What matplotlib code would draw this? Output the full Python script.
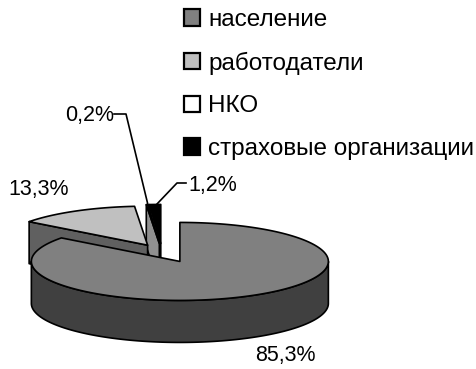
import numpy as np
import matplotlib
matplotlib.use("Agg")
import matplotlib.pyplot as plt
from matplotlib.patches import Polygon, Patch

plt.rcParams['font.family'] = ['Liberation Sans', 'DejaVu Sans']

# ---- data ----
categories = ["население", "работодатели", "НКО", "страховые организации"]
values = [85.3, 13.3, 0.2, 1.2]

# ---- style ----
top_colors = ["#808080", "#c0c0c0", "#ffffff", "#000000"]
side_colors = ["#404040", "#606060", "#909090", "#808080"]
explode = [0.27, 0.20, 0.22, 0.22]

W, H = 477, 369
fig = plt.figure(figsize=(W / 100, H / 100), dpi=100)
ax = fig.add_axes([0, 0, 1, 1])
ax.set_xlim(0, W)
ax.set_ylim(H, 0)
ax.axis("off")

CX, CY = 162.0, 252.0   # base centre of pie
RX, RY = 148.5, 39.0    # ellipse radii
DEPTH = 42.0
LW = 1.2

total = float(sum(values))
fracs = [v / total for v in values]
cum = np.concatenate([[0], np.cumsum(fracs)])
# start at 12 o'clock, clockwise
th_hi = 90.0 - 360.0 * cum[:-1]
th_lo = 90.0 - 360.0 * cum[1:]


def pt(cx, cy, th, dz=0.0):
    t = np.radians(th)
    return cx + RX * np.cos(t), cy - RY * np.sin(t) + dz


def arc(cx, cy, a, b, dz=0.0, n=None):
    if n is None:
        n = max(3, int(abs(b - a) * 2))
    th = np.linspace(a, b, n)
    x, y = pt(cx, cy, th, dz)
    return np.column_stack([x, y])


slices = []
for i in range(len(values)):
    lo, hi = th_lo[i], th_hi[i]
    mid = np.radians((lo + hi) / 2)
    cx = CX + explode[i] * RX * np.cos(mid)
    cy = CY - explode[i] * RY * np.sin(mid)
    depth_key = cy - RY * 0.5 * np.sin(mid)
    slices.append((depth_key, i, lo, hi, cx, cy))

slices.sort(key=lambda s: s[0])

for _, i, lo, hi, cx, cy in slices:
    sc = side_colors[i]
    # radial faces
    if np.cos(np.radians(hi)) < 0:
        x1, y1 = pt(cx, cy, hi)
        poly = [(cx, cy), (x1, y1), (x1, y1 + DEPTH), (cx, cy + DEPTH)]
        ax.add_patch(Polygon(poly, closed=True, fc=sc, ec="black", lw=LW, joinstyle="round"))
    if np.cos(np.radians(lo)) > 0:
        x1, y1 = pt(cx, cy, lo)
        poly = [(cx, cy), (x1, y1), (x1, y1 + DEPTH), (cx, cy + DEPTH)]
        ax.add_patch(Polygon(poly, closed=True, fc=sc, ec="black", lw=LW, joinstyle="round"))
    # outer curved side (front half: sin < 0)
    for k in (-1, 0, 1):
        a = max(lo, -180 + 360 * k)
        b = min(hi, 0 + 360 * k)
        if b > a:
            topa = arc(cx, cy, a, b)
            bota = arc(cx, cy, b, a, DEPTH)
            ax.add_patch(Polygon(np.vstack([topa, bota]), closed=True, fc=sc,
                                 ec="black", lw=LW, joinstyle="round"))
    # top face
    top = np.vstack([[(cx, cy)], arc(cx, cy, lo, hi)])
    ax.add_patch(Polygon(top, closed=True, fc=top_colors[i], ec="black", lw=LW,
                         joinstyle="round"))


def fmt(v):
    return f"{v:.1f}".replace(".", ",") + "%"


FS = 15.5
ax.text(285, 356, fmt(values[0]), fontsize=FS, ha="center", va="center")
ax.text(39, 189, fmt(values[1]), fontsize=FS, ha="center", va="center")
ax.text(90, 116, fmt(values[2]), fontsize=FS, ha="center", va="center")
ax.text(213, 185, fmt(values[3]), fontsize=FS, ha="center", va="center")

# leader lines
ax.plot([114, 126, 148], [114, 114, 205], color="black", lw=1.2)
ax.plot([186, 177, 157], [183, 183, 204], color="black", lw=1.2)

LFS = 17.5
handles = [Patch(fc=c, ec="black", lw=1.6) for c in top_colors]
fig.legend(handles, categories, loc="upper left",
           bbox_to_anchor=(184 / W, 1 - 9 / H), frameon=False, fontsize=LFS,
           handlelength=0.65, handleheight=0.65, handletextpad=0.35,
           labelspacing=0.85, borderpad=0, borderaxespad=0)

fig.savefig("out.png", dpi=100)
